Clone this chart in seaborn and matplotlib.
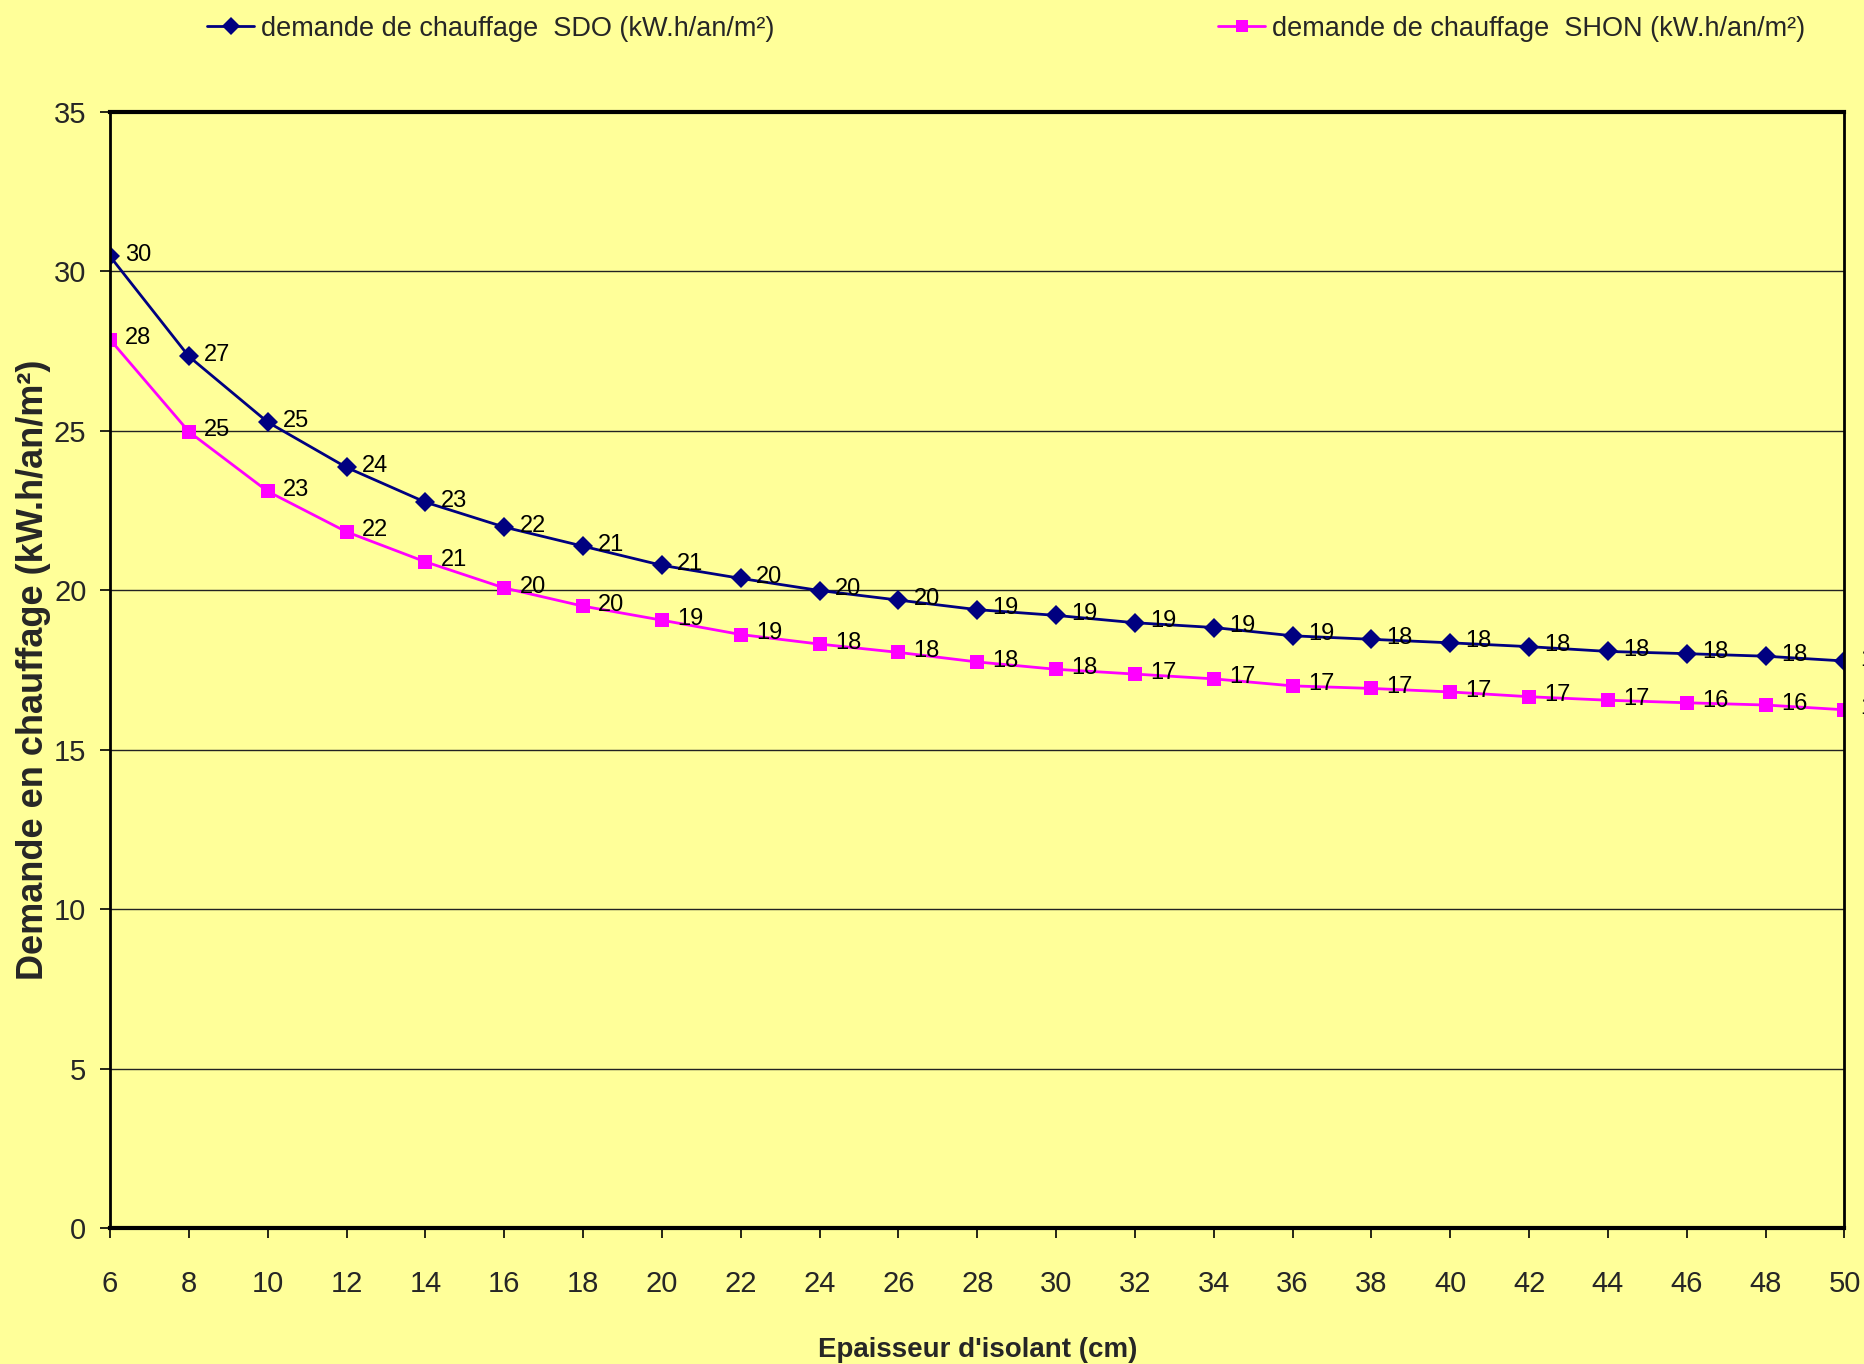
import pandas as pd
import seaborn as sns
import matplotlib.pyplot as plt

# Epaisseur d'isolant (cm)
EPAISSEUR = [6, 8, 10, 12, 14, 16, 18, 20, 22, 24, 26, 28, 30, 32, 34, 36, 38, 40, 42, 44, 46, 48, 50]

# demande de chauffage SDO (kW.h/an/m²)
SDO = [30.47, 27.33, 25.27, 23.85, 22.76, 21.98, 21.38, 20.78, 20.37, 19.99, 19.69, 19.39,
       19.21, 18.98, 18.83, 18.57, 18.46, 18.35, 18.23, 18.08, 18.01, 17.93, 17.78]

# demande de chauffage SHON (kW.h/an/m²)
SHON = [27.86, 24.97, 23.10, 21.83, 20.89, 20.07, 19.50, 19.06, 18.61, 18.31, 18.05, 17.75,
        17.52, 17.37, 17.22, 17.00, 16.92, 16.81, 16.66, 16.55, 16.47, 16.40, 16.25]

LBL_SDO = 'demande de chauffage  SDO (kW.h/an/m²)'
LBL_SHON = 'demande de chauffage  SHON (kW.h/an/m²)'

BG = '#FFFF99'
FONT = ['Liberation Sans', 'DejaVu Sans']
COLORS = {LBL_SDO: '#000080', LBL_SHON: '#FF00FF'}
MARKERS = {LBL_SDO: 'D', LBL_SHON: 's'}


def main():
    df = pd.concat([
        pd.DataFrame({'epaisseur': EPAISSEUR, 'demande': SDO, 'serie': LBL_SDO}),
        pd.DataFrame({'epaisseur': EPAISSEUR, 'demande': SHON, 'serie': LBL_SHON}),
    ], ignore_index=True)

    sns.set_theme(style='white')
    plt.rcParams['font.family'] = FONT

    fig = plt.figure(figsize=(18.65, 13.64), dpi=100, facecolor=BG)
    ax = fig.add_axes([0.059, 0.0997, 0.930, 0.8183], facecolor=BG)

    sns.lineplot(data=df, x='epaisseur', y='demande', hue='serie', style='serie',
                 palette=COLORS, markers=MARKERS, dashes=False, markersize=10,
                 markeredgewidth=0, linewidth=2, ax=ax, legend=False)

    # data labels, rounded like in the Excel sheet
    for vals in (SDO, SHON):
        for x, y in zip(EPAISSEUR, vals):
            ax.annotate(f'{y:.0f}', (x, y), xytext=(11, 1), textcoords='offset points',
                        ha='left', va='center', fontsize=17, color='black',
                        annotation_clip=False)

    ax.set_xlim(6, 50)
    ax.set_ylim(0, 35)
    ax.set_xticks(EPAISSEUR)
    ax.set_yticks(range(0, 36, 5))
    ax.yaxis.grid(True, color='#222222', linewidth=1)
    ax.xaxis.grid(False)
    for side in ax.spines:
        ax.spines[side].set_color('black')
        ax.spines[side].set_linewidth(2)
    ax.spines['top'].set_linewidth(3)
    ax.spines['bottom'].set_linewidth(3)

    ax.tick_params(axis='y', direction='out', length=7, width=1.2, color='black',
                   pad=10, labelsize=21, left=True)
    ax.tick_params(axis='x', direction='out', length=7, width=1.2, color='black',
                   pad=23, labelsize=21, bottom=True)

    ax.set_xlabel("Epaisseur d'isolant (cm)", fontsize=20, fontweight='bold', labelpad=28)
    ax.set_ylabel('Demande en chauffage (kW.h/an/m²)', fontsize=26, fontweight='bold')
    ax.yaxis.set_label_coords(-0.034, 0.5)

    # two legend entries spread across the top, as in the original
    for lbl, x0 in ((LBL_SDO, 0.111), (LBL_SHON, 0.653)):
        h = plt.Line2D([], [], color=COLORS[lbl], marker=MARKERS[lbl], markersize=9,
                       markeredgewidth=0, linewidth=2, label=lbl)
        fig.legend(handles=[h], loc='center left', bbox_to_anchor=(x0, 0.979),
                   frameon=False, fontsize=19.5, handlelength=1.75, handletextpad=0.25,
                   borderpad=0, borderaxespad=0)

    fig.savefig('out.png', dpi=100, facecolor=BG)
    plt.close(fig)


if __name__ == '__main__':
    main()
